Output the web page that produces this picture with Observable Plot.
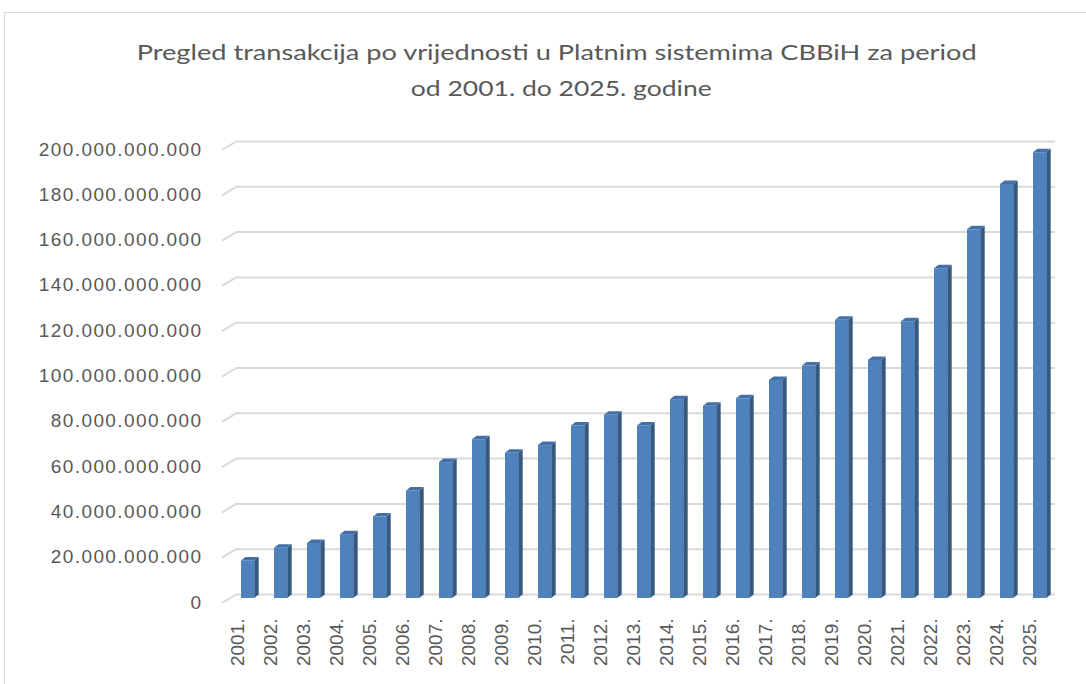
<!DOCTYPE html>
<html>
<head>
<meta charset="utf-8">
<script src="https://cdn.jsdelivr.net/npm/d3@7"></script>
<script src="https://cdn.jsdelivr.net/npm/@observablehq/plot@0.6"></script>
<style>
  html, body { margin: 0; padding: 0; background: #fff; }
  #wrap { position: relative; width: 1086px; height: 684px; overflow: hidden; background: #fff; }
  #frame { position: absolute; left: 4px; top: 12px; width: 1200px; height: 800px; border: 1px solid #d9d9d9; box-sizing: border-box; }
  #chart { position: absolute; left: 0; top: 0; }
  .title { position: absolute; white-space: nowrap; font-family: Lato, "Open Sans", sans-serif; font-size: 21px; color: #595959; line-height: 1; }
  .ylab text { letter-spacing: 1.4px; }
</style>
</head>
<body>
<div id="wrap">
  <div id="frame"></div>
  <div id="chart"></div>
  <span class="title" id="t1"></span>
  <span class="title" id="t2"></span>
</div>
<script>
// ---- data ----
const years = ["2001.","2002.","2003.","2004.","2005.","2006.","2007.","2008.","2009.","2010.",
  "2011.","2012.","2013.","2014.","2015.","2016.","2017.","2018.","2019.","2020.",
  "2021.","2022.","2023.","2024.","2025."];
const values = [16.6e9, 22.2e9, 24.3e9, 28.2e9, 36.0e9, 47.5e9, 60.0e9, 70.1e9, 64.1e9, 67.5e9,
  76.2e9, 80.9e9, 76.2e9, 87.8e9, 84.9e9, 88.2e9, 96.3e9, 102.6e9, 122.8e9, 105.1e9,
  122.2e9, 145.6e9, 162.8e9, 182.8e9, 196.8e9];
const yTicks = [0, 20e9, 40e9, 60e9, 80e9, 100e9, 120e9, 140e9, 160e9, 180e9, 200e9];
const titleLines = ["Pregled transakcija po vrijednosti u Platnim sistemima CBBiH za period", "od 2001. do 2025. godine"];

const data = years.map((year, i) => ({year, value: values[i]}));

const fmt = d3.formatLocale({decimal: ",", thousands: ".", grouping: [3], currency: ["", ""]}).format(",d");

const PAD = 0.6;
const DX = 4.5, DY = -3.5; // 3D depth
const GRID_DY = -4, STUB_FRONT_DY = 5;

function bars3d(index, scales, values_, dimensions) {
  const x = scales.x, y = scales.y;
  const step = x(years[1]) - x(years[0]);
  const bw = step * (1 - PAD);
  const g = d3.create("svg:g");
  for (const d of data) {
    const x0 = x(d.year), x1 = x0 + bw;
    const y0 = y(0), y1 = y(d.value);
    g.append("path")
      .attr("d", `M${x1},${y0}L${x1 + DX},${y0 + DY}L${x1 + DX},${y1 + DY}L${x1},${y1}Z`)
      .attr("fill", "#36597f");
    g.append("path")
      .attr("d", `M${x0},${y1}L${x0 + DX},${y1 + DY}L${x1 + DX},${y1 + DY}L${x1},${y1}Z`)
      .attr("fill", "#4370a6");
    g.append("rect")
      .attr("x", x0).attr("y", y1).attr("width", bw).attr("height", y0 - y1)
      .attr("fill", "#4f81bd");
  }
  return g.node();
}

function stubs(index, scales, values_, dimensions) {
  const y = scales.y;
  const g = d3.create("svg:g");
  const xl = dimensions.marginLeft;
  for (const t of yTicks) {
    g.append("line")
      .attr("x1", xl - 15).attr("y1", y(t) + STUB_FRONT_DY)
      .attr("x2", xl).attr("y2", y(t) + GRID_DY)
      .attr("stroke", "#d9d9d9").attr("stroke-width", 2);
  }
  return g.node();
}

const W = 1086, H = 684;
const plot = Plot.plot({
  width: W,
  height: H,
  marginLeft: 237,
  marginRight: 31,
  marginTop: 145,
  marginBottom: 86,
  style: {background: "transparent", fontFamily: "'Liberation Sans', Arial, sans-serif", color: "#595959"},
  x: {domain: years, range: [217, 1056.2], padding: PAD, label: null},
  y: {domain: [0, 200e9], label: null},
  marks: [
    Plot.ruleY(yTicks, {stroke: "#d9d9d9", strokeWidth: 2, dy: GRID_DY}),
    stubs,
    bars3d,
    Plot.axisY(yTicks, {tickSize: 0, tickPadding: 35, tickFormat: fmt, fontSize: 19, fill: "#595959", dy: 4, label: null, className: "ylab"}),
    Plot.axisX({tickSize: 0, tickRotate: -90, tickPadding: 20, fontSize: 19, fill: "#595959", dx: -4, label: null})
  ]
});
document.getElementById("chart").appendChild(plot);

function placeTitle(id, text, centerX, top, targetWidth) {
  const el = document.getElementById(id);
  el.textContent = text;
  const w = el.getBoundingClientRect().width;
  el.style.left = (centerX - w / 2) + "px";
  el.style.top = top + "px";
  el.style.transformOrigin = "50% 50%";
  el.style.transform = `scaleX(${targetWidth / w})`;
}
placeTitle("t1", titleLines[0], 557, 41, 840);
placeTitle("t2", titleLines[1], 561, 77, 301);
</script>
</body>
</html>
